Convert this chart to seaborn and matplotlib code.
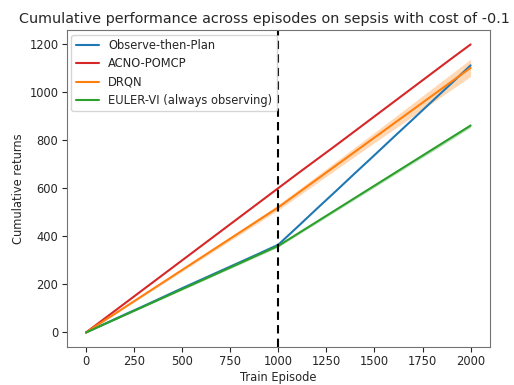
import numpy as np
import pandas as pd
import matplotlib
matplotlib.use("Agg")
import matplotlib.pyplot as plt
import seaborn as sns

episodes = list(range(0, 2001, 100))
observe_then_plan = [0, 37, 74, 110, 147, 184, 220, 256, 292, 328, 365,
                     439, 514, 588, 663, 737, 812, 886, 961, 1035, 1110]
acno_pomcp = [0, 60, 120, 180, 240, 300, 360, 420, 480, 540, 600,
              660, 719, 778, 838, 898, 958, 1018, 1078, 1138, 1197]
drqn = [0, 52, 104, 156, 208, 260, 312, 364, 416, 468, 520,
        578, 636, 694, 752, 810, 868, 926, 984, 1042, 1100]
drqn_spread = [0, 2, 3, 4, 5, 6, 7, 8, 9, 10, 11,
               13, 15, 17, 19, 21, 24, 27, 30, 33, 36]
euler_vi = [0, 36, 72, 108, 144, 180, 216, 252, 288, 324, 360,
            410, 460, 510, 560, 610, 660, 710, 760, 810, 860]
euler_spread = [0, 1, 2, 2, 3, 3, 4, 4, 5, 5, 5,
                5, 6, 6, 6, 7, 7, 7, 8, 8, 8]

series = {
    "Observe-then-Plan": observe_then_plan,
    "ACNO-POMCP": acno_pomcp,
    "DRQN": drqn,
    "EULER-VI (always observing)": euler_vi,
}
colors = {
    "Observe-then-Plan": "#1f77b4",
    "ACNO-POMCP": "#d62728",
    "DRQN": "#ff7f0e",
    "EULER-VI (always observing)": "#2ca02c",
}

df = pd.DataFrame([
    {"Train Episode": e, "Cumulative returns": v, "method": name}
    for name, vals in series.items() for e, v in zip(episodes, vals)
])

sns.set_style("ticks", {"axes.edgecolor": ".45"})
plt.rcParams["font.family"] = ["DejaVu Sans"]

fig = plt.figure(figsize=(5.14, 3.85), dpi=100)
ax = fig.add_axes([0.13, 0.099, 0.823, 0.823])

ep = np.array(episodes)
ax.fill_between(ep, np.array(drqn) - np.array(drqn_spread),
                np.array(drqn) + np.array(drqn_spread),
                color=colors["DRQN"], alpha=0.3, linewidth=0)
ax.fill_between(ep, np.array(euler_vi) - np.array(euler_spread),
                np.array(euler_vi) + np.array(euler_spread),
                color=colors["EULER-VI (always observing)"], alpha=0.3, linewidth=0)

sns.lineplot(data=df, x="Train Episode", y="Cumulative returns", hue="method",
             palette=colors, hue_order=list(series.keys()), ax=ax, linewidth=1.5)

ax.axvline(1000, color="black", linestyle=(0, (4, 2.5)), linewidth=1.5)

ax.set_xticks([0, 250, 500, 750, 1000, 1250, 1500, 1750, 2000])
ax.set_yticks([0, 200, 400, 600, 800, 1000, 1200])
ax.tick_params(labelsize=8.3, colors="0.15", length=3.5, pad=2.5)
ax.set_xlabel("Train Episode", fontsize=8.3, labelpad=2)
ax.set_ylabel("Cumulative returns", fontsize=8.3, labelpad=3)
ax.set_title("Cumulative performance across episodes on sepsis with cost of -0.1",
             fontsize=10.4, pad=5, x=0.466)
ax.legend(loc="upper left", fontsize=8.3, frameon=True, title=None,
          borderaxespad=0.4, handlelength=2.0, labelspacing=0.45)

fig.savefig("out.png", dpi=100)
